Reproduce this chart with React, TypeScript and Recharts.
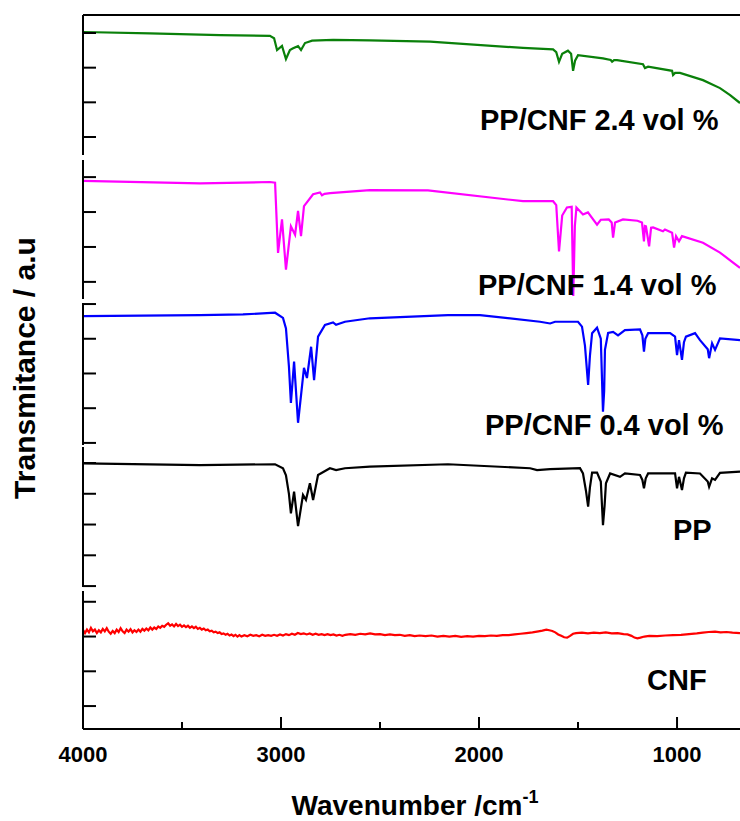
import { LineChart, Line, XAxis, YAxis } from 'recharts'

// wavenumber (cm-1) vs transmittance (a.u.)
const CNF: [number, number][] = [
  [4000, 2.19], [3990, 2.1], [3980, 2.2], [3970, 2.12], [3960, 2.25], [3950, 2.15], [3940, 2.2],
  [3930, 2.1], [3920, 2.18], [3910, 2.12], [3900, 2.22], [3890, 2.15], [3880, 2.24], [3870, 2.14],
  [3860, 2.08], [3850, 2.16], [3840, 2.1], [3830, 2.2], [3820, 2.13], [3810, 2.24], [3800, 2.15],
  [3790, 2.1], [3780, 2.2], [3770, 2.14], [3760, 2.21], [3750, 2.12], [3740, 2.18], [3730, 2.13],
  [3720, 2.2], [3710, 2.14], [3700, 2.22], [3690, 2.17], [3680, 2.23], [3670, 2.18], [3660, 2.26],
  [3650, 2.2], [3640, 2.26], [3630, 2.22], [3620, 2.29], [3610, 2.25], [3600, 2.31], [3590, 2.28],
  [3580, 2.34], [3570, 2.38], [3560, 2.31], [3550, 2.35], [3540, 2.29], [3530, 2.36], [3520, 2.3],
  [3510, 2.34], [3500, 2.28], [3490, 2.32], [3480, 2.27], [3470, 2.31], [3460, 2.25], [3450, 2.29],
  [3440, 2.24], [3430, 2.28], [3420, 2.22], [3410, 2.25], [3400, 2.2], [3390, 2.23], [3380, 2.18],
  [3370, 2.2], [3360, 2.15], [3350, 2.17], [3340, 2.12], [3330, 2.14], [3320, 2.1], [3310, 2.12],
  [3300, 2.07], [3290, 2.09], [3280, 2.05], [3270, 2.08], [3260, 2.03], [3250, 2.06], [3240, 2.01],
  [3230, 2.05], [3220, 2.0], [3210, 2.04], [3200, 2.0], [3185, 2.04], [3170, 2.01], [3155, 2.05],
  [3140, 2.02], [3125, 2.04], [3110, 2.01], [3095, 2.05], [3080, 2.02], [3065, 2.04], [3050, 2.02],
  [3035, 2.05], [3020, 2.02], [3005, 2.06], [2990, 2.03], [2975, 2.07], [2960, 2.04], [2945, 2.08],
  [2930, 2.05], [2915, 2.1], [2900, 2.07], [2885, 2.09], [2870, 2.06], [2855, 2.09], [2840, 2.05],
  [2825, 2.08], [2810, 2.05], [2795, 2.07], [2780, 2.04], [2765, 2.07], [2750, 2.04], [2735, 2.06],
  [2720, 2.03], [2705, 2.05], [2690, 2.02], [2675, 2.05], [2650, 2.07], [2625, 2.05], [2600, 2.08],
  [2575, 2.06], [2550, 2.09], [2525, 2.06], [2500, 2.07], [2475, 2.04], [2450, 2.06], [2425, 2.04],
  [2400, 2.05], [2375, 2.02], [2350, 2.04], [2325, 2.01], [2300, 2.03], [2270, 2.01], [2240, 2.03],
  [2210, 2.0], [2180, 2.02], [2150, 2.0], [2120, 2.02], [2090, 1.99], [2060, 2.01], [2030, 2.0],
  [2000, 2.02], [1970, 2.01], [1940, 2.03], [1910, 2.02], [1880, 2.04], [1850, 2.04], [1820, 2.06],
  [1790, 2.08], [1760, 2.1], [1730, 2.12], [1700, 2.15], [1680, 2.17], [1660, 2.2], [1645, 2.18],
  [1630, 2.16], [1615, 2.12], [1600, 2.06], [1585, 2.02], [1570, 1.98], [1555, 1.97], [1540, 2.02],
  [1525, 2.08], [1510, 2.1], [1480, 2.11], [1450, 2.09], [1420, 2.11], [1390, 2.1], [1360, 2.12],
  [1330, 2.09], [1300, 2.1], [1270, 2.07], [1250, 2.06], [1230, 2.02], [1215, 1.97], [1200, 1.95],
  [1185, 1.97], [1165, 2.0], [1140, 2.02], [1100, 2.01], [1060, 2.03], [1020, 2.04], [980, 2.05],
  [940, 2.07], [900, 2.09], [870, 2.11], [840, 2.13], [808, 2.14], [780, 2.12], [750, 2.13],
  [720, 2.11], [682, 2.1],
]

const PP: [number, number][] = [
  [4000, 3.99], [3409, 3.93], [3030, 3.96], [2990, 3.83], [2975, 3.6], [2960, 3.0], [2950, 2.36],
  [2934, 3.07], [2914, 1.95], [2889, 2.96], [2874, 2.8], [2854, 3.34], [2838, 2.8], [2813, 3.61],
  [2753, 3.83], [2722, 3.77], [2677, 3.83], [2551, 3.88], [2157, 3.96], [1742, 3.83], [1707, 3.77],
  [1641, 3.8], [1490, 3.83], [1475, 3.66], [1460, 3.1], [1449, 2.58], [1440, 3.2], [1429, 3.69],
  [1404, 3.69], [1385, 3.4], [1374, 1.98], [1366, 2.6], [1359, 3.34], [1338, 3.66], [1288, 3.55],
  [1263, 3.66], [1187, 3.61], [1175, 3.45], [1167, 3.18], [1158, 3.5], [1146, 3.66], [1010, 3.66],
  [1000, 3.18], [990, 3.55], [975, 3.12], [965, 3.5], [955, 3.69], [884, 3.66], [845, 3.4],
  [838, 3.23], [823, 3.5], [808, 3.45], [783, 3.68], [682, 3.72],
]

const PP_CNF_04: [number, number][] = [
  [4000, 3.65], [3409, 3.68], [3192, 3.7], [3030, 3.75], [2990, 3.6], [2975, 3.3], [2960, 2.2],
  [2950, 1.15], [2934, 2.34], [2914, 0.58], [2884, 2.16], [2869, 1.87], [2848, 2.77], [2833, 1.81],
  [2813, 3.06], [2778, 3.4], [2737, 3.47], [2722, 3.4], [2677, 3.49], [2551, 3.59], [2157, 3.68],
  [1995, 3.68], [1692, 3.49], [1641, 3.44], [1616, 3.49], [1500, 3.49], [1480, 3.35], [1465, 2.8],
  [1449, 1.67], [1440, 2.5], [1429, 3.16], [1404, 3.32], [1385, 3.0], [1374, 0.9], [1368, 1.5],
  [1364, 2.68], [1348, 3.17], [1323, 3.2], [1298, 3.1], [1263, 3.25], [1187, 3.27], [1175, 3.1],
  [1167, 2.63], [1160, 3.0], [1146, 3.16], [1035, 3.16], [1010, 3.06], [1000, 2.53], [990, 2.96],
  [975, 2.39], [965, 2.9], [955, 3.06], [909, 3.16], [884, 2.96], [845, 2.7], [838, 2.44],
  [823, 2.87], [808, 2.68], [783, 3.01], [682, 2.96],
]

const PP_CNF_14: [number, number][] = [
  [4000, 2.89], [3409, 2.82], [3056, 2.86], [3030, 2.84], [3015, 0.83], [2995, 1.79], [2975, 0.35],
  [2950, 1.59], [2929, 1.35], [2914, 2.03], [2899, 1.31], [2884, 2.17], [2838, 2.51], [2803, 2.56],
  [2793, 2.48], [2780, 2.52], [2752, 2.54], [2551, 2.63], [2258, 2.62], [1778, 2.31], [1626, 2.31],
  [1610, 2.2], [1596, 0.87], [1580, 1.9], [1556, 2.13], [1532, 2.15], [1524, -0.4], [1516, 1.6],
  [1508, 2.13], [1475, 1.93], [1450, 1.99], [1404, 1.64], [1385, 1.78], [1345, 1.79], [1330, 1.7],
  [1323, 1.27], [1313, 1.7], [1273, 1.79], [1200, 1.75], [1177, 1.7], [1167, 1.16], [1162, 1.6],
  [1157, 1.59], [1141, 1.02], [1131, 1.55], [1121, 1.56], [1071, 1.45], [1061, 1.5], [1025, 1.41],
  [1015, 0.98], [1005, 1.31], [990, 1.16], [975, 1.31], [869, 1.12], [783, 0.84], [717, 0.55],
  [682, 0.4],
]

const PP_CNF_24: [number, number][] = [
  [4000, 3.03], [3662, 2.99], [3308, 2.94], [3056, 2.92], [3035, 2.85], [3020, 2.51], [2995, 2.63],
  [2975, 2.25], [2955, 2.51], [2939, 2.56], [2914, 2.62], [2899, 2.51], [2879, 2.71], [2843, 2.78],
  [2737, 2.8], [2551, 2.79], [2247, 2.75], [1778, 2.57], [1626, 2.53], [1610, 2.45], [1596, 2.17],
  [1580, 2.4], [1551, 2.49], [1535, 2.4], [1525, 1.91], [1515, 2.2], [1500, 2.36], [1374, 2.27],
  [1335, 2.22], [1328, 2.17], [1318, 2.22], [1303, 2.22], [1172, 2.1], [1162, 1.99], [1146, 2.03],
  [1025, 1.91], [1020, 1.79], [1010, 1.85], [985, 1.85], [869, 1.64], [783, 1.41], [732, 1.21],
  [682, 0.98],
]

const X_DOMAIN = [682, 4000]
const X_MAJOR = [4000, 3000, 2000, 1000]
const X_MINOR = [3500, 2500, 1500]
const TOP_TICKS = [3520, 3045, 2575, 2105, 1630, 1160]

const FONT = '"Liberation Sans", Arial, sans-serif'
const PAD = 4
const BOTTOM = 70
const PLOT_LEFT = 83
const PLOT_W = 740 - PLOT_LEFT
const FRAME_Y = 729

// same linear map the charts use for the reversed wavenumber axis
const xOf = (wn: number) => PLOT_LEFT + ((X_DOMAIN[1] - wn) / (X_DOMAIN[1] - X_DOMAIN[0])) * PLOT_W

const panels = [
  { name: 'PP/CNF 2.4 vol %', data: PP_CNF_24, color: '#0a800a', top: 15, h: 140, domain: [-0.52, 3.52], ticks: [0, 1, 2, 3], lx: 480, ly: 130 },
  { name: 'PP/CNF 1.4 vol %', data: PP_CNF_14, color: '#ff00ff', top: 160, h: 139, domain: [-0.49, 3.49], ticks: [0, 1, 2, 3], lx: 478, ly: 295 },
  { name: 'PP/CNF 0.4 vol %', data: PP_CNF_04, color: '#0000ff', top: 303, h: 142, domain: [-0.06, 4.03], ticks: [0, 1, 2, 3, 4], lx: 485, ly: 435 },
  { name: 'PP', data: PP, color: '#000000', top: 447, h: 140, domain: [-0.03, 4.52], ticks: [0, 1, 2, 3, 4], lx: 673, ly: 540 },
  { name: 'CNF', data: CNF, color: '#ff0000', top: 591, h: 138, domain: [-0.66, 3.31], ticks: [0, 1, 2, 3], lx: 647, ly: 690 },
]

const toPts = (arr: [number, number][]) => arr.map(([wn, v]) => ({ wn, v }))

const NoTick = () => <g />

function BottomLabel(props: any) {
  const { x, y, payload } = props
  return (
    <text x={x} y={y + 33} textAnchor="middle" fontFamily={FONT} fontWeight="bold" fontSize={22} fill="#000">
      {payload.value}
    </text>
  )
}

const axisStroke = { stroke: '#000', strokeWidth: 2 }

export default function App() {
  return (
    <div style={{ position: 'absolute', left: 0, top: 0, width: 740, height: 821, background: '#fff', overflow: 'hidden' }}>
      {panels.map((p, i) => {
        const last = i === panels.length - 1
        const first = i === 0
        return (
          <div key={p.name} style={{ position: 'absolute', left: 0, top: p.top - PAD }}>
            <LineChart
              width={740}
              height={p.h + PAD + (last ? BOTTOM : PAD)}
              margin={{ top: first ? PAD - 1 : PAD, right: 0, bottom: last ? 0 : PAD, left: PLOT_LEFT - 1 }}
            >
              <XAxis
                dataKey="wn"
                type="number"
                domain={X_DOMAIN}
                reversed
                allowDataOverflow
                hide={!last}
                ticks={X_MAJOR}
                interval={0}
                height={BOTTOM}
                tickSize={0}
                tickMargin={0}
                tickLine={false}
                tick={<BottomLabel />}
                axisLine={axisStroke}
              />
              {first && (
                <XAxis
                  xAxisId="top"
                  orientation="top"
                  type="number"
                  domain={X_DOMAIN}
                  reversed
                  allowDataOverflow
                  ticks={TOP_TICKS}
                  interval={0}
                  tick={<NoTick />}
                  tickSize={-3}
                  tickMargin={0}
                  height={1}
                  axisLine={axisStroke}
                  tickLine={{ stroke: '#000', strokeWidth: 1.5 }}
                />
              )}
              <YAxis
                type="number"
                domain={p.domain}
                ticks={p.ticks}
                interval={0}
                allowDataOverflow
                width={1}
                tick={<NoTick />}
                tickSize={-13}
                tickMargin={0}
                axisLine={axisStroke}
                tickLine={axisStroke}
              />
              <Line
                data={toPts(p.data)}
                dataKey="v"
                type="linear"
                stroke={p.color}
                strokeWidth={2.2}
                dot={false}
                isAnimationActive={false}
              />
            </LineChart>
          </div>
        )
      })}
      <svg width={740} height={821} style={{ position: 'absolute', left: 0, top: 0, pointerEvents: 'none' }}>
        {/* inward ticks on the bottom frame */}
        {X_MAJOR.map((t) => (
          <line key={`M${t}`} x1={xOf(t)} x2={xOf(t)} y1={FRAME_Y} y2={FRAME_Y - 12} stroke="#000" strokeWidth={2} />
        ))}
        {X_MINOR.map((t) => (
          <line key={`m${t}`} x1={xOf(t)} x2={xOf(t)} y1={FRAME_Y} y2={FRAME_Y - 7} stroke="#000" strokeWidth={2} />
        ))}
        {panels.map((p) => (
          <text key={p.name} x={p.lx} y={p.ly} fontFamily={FONT} fontWeight="bold" fontSize={29} fill="#000">
            {p.name}
          </text>
        ))}
        <text x={415} y={815} textAnchor="middle" fontFamily={FONT} fontWeight="bold" fontSize={28} fill="#000">
          Wavenumber /cm<tspan dy={-12} fontSize={18}>-1</tspan>
        </text>
        <text
          transform="translate(35, 368) rotate(-90)"
          textAnchor="middle"
          fontFamily={FONT}
          fontWeight="bold"
          fontSize={30}
          fill="#000"
        >
          Transmitance / a.u
        </text>
      </svg>
    </div>
  )
}
